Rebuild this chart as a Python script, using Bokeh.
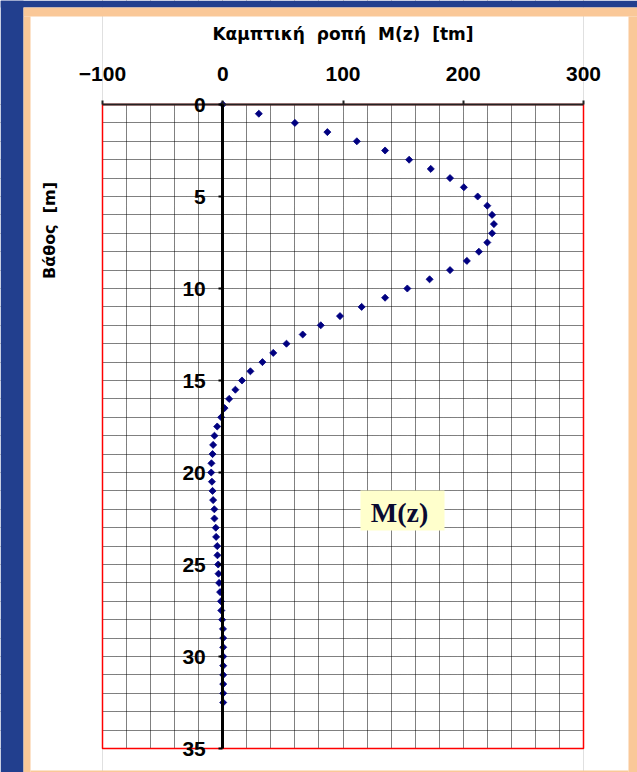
from math import pi
from bokeh.plotting import figure
from bokeh.models import (Range1d, SingleIntervalTicker, FixedTicker, BoxAnnotation, Label)
from bokeh.embed import file_html
from bokeh.resources import INLINE

# ---- data ----
depth = [0.0, 0.5, 1.0, 1.5, 2.0, 2.5, 3.0, 3.5, 4.0, 4.5, 5.0, 5.5, 6.0, 6.5, 7.0, 7.5,
         8.0, 8.5, 9.0, 9.5, 10.0, 10.5, 11.0, 11.5, 12.0, 12.5, 13.0, 13.5, 14.0, 14.5,
         15.0, 15.5, 16.0, 16.5, 17.0, 17.5, 18.0, 18.5, 19.0, 19.5, 20.0, 20.5, 21.0,
         21.5, 22.0, 22.5, 23.0, 23.5, 24.0, 24.5, 25.0, 25.5, 26.0, 26.5, 27.0, 27.5,
         28.0, 28.5, 29.0, 29.5, 30.0, 30.5, 31.0, 31.5, 32.0, 32.5]
moment = [0.0, 30.0, 60.0, 87.0, 111.5, 135.0, 155.0, 173.0, 189.0, 200.5, 212.0, 220.0,
          224.0, 225.5, 224.0, 220.0, 213.0, 203.0, 189.0, 172.0, 153.5, 135.0, 115.5,
          97.5, 81.5, 66.5, 53.0, 42.0, 33.0, 23.0, 16.0, 10.5, 5.3, 1.5, -1.3, -4.6,
          -6.9, -8.0, -8.5, -9.4, -9.6, -9.0, -8.5, -8.0, -7.0, -6.9, -5.8, -5.5, -4.6,
          -4.4, -3.8, -3.5, -3.0, -2.2, -1.5, -1.2, -0.5, 0.2, 0.4, 0.4, 0.4, 0.4, 0.4,
          0.4, 0.4, 0.4]
x_ticks = [-100, 0, 100, 200, 300]
y_ticks = [0, 5, 10, 15, 20, 25, 30, 35]
x_axis_limits = (-100, 300)
y_axis_limits = (0, 35)
title_text = "Καμπτική \u00a0ροπή \u00a0M(z) \u00a0[tm]"
ylabel_text = "Βάθος \u00a0[m]"
series_label = "M(z)"

W, H = 637, 772
BLUE = "#223f8e"
PEACH = "#fac898"
TICK_FONT = "Liberation Sans"

# the plotting area (red box) sits at canvas px x 102..583, y 104..748;
# the frame covers the whole canvas so that every guide can be drawn.
FX0, FX1, FY0, FY1 = 102, 583, 104, 748
SX = (FX1 - FX0) / (x_axis_limits[1] - x_axis_limits[0])
SY = (FY1 - FY0) / (y_axis_limits[1] - y_axis_limits[0])
X0 = x_axis_limits[0] - FX0 / SX
Y0 = y_axis_limits[0] - FY0 / SY


def px2x(px):
    return X0 + px / SX


def px2y(py):
    return Y0 + py / SY


p = figure(width=W, height=H, output_backend="svg", toolbar_location=None,
           x_range=Range1d(px2x(0), px2x(W)), y_range=Range1d(px2y(H), px2y(0)),
           x_axis_location="above", y_axis_location="left",
           min_border_left=0, min_border_right=0, min_border_top=0,
           min_border_bottom=0)

p.border_fill_color = "white"
p.background_fill_color = "white"
p.outline_line_alpha = 0

# grids (dotted)
p.xgrid.ticker = SingleIntervalTicker(interval=20)
p.ygrid.ticker = SingleIntervalTicker(interval=1)
for g in (p.xgrid, p.ygrid):
    g.grid_line_color = "black"
    g.grid_line_dash = "1 1"
    g.grid_line_width = 1
    g.grid_line_alpha = 1.0


def box(l, r, t, b, color, level="underlay"):
    bx = BoxAnnotation(left=px2x(l), right=px2x(r), top=px2y(t), bottom=px2y(b),
                       fill_color=color, fill_alpha=1, line_alpha=0, level=level)
    p.add_layout(bx)


# keep the grid inside the plotting area
box(0, FX0, 0, H, "white")
box(FX1, W, 0, H, "white")
box(FX0, FX1, 0, FY0, "white")
box(FX0, FX1, FY1, H, "white")

# outer blue background and peach frame
box(0, W, 0, 7, BLUE)
box(0, 23, 0, H, BLUE)
box(23, W, 7, 16, PEACH)
box(23, 30, 16, H, PEACH)
box(628, W, 16, H, PEACH)
box(30, 628, 770, H, PEACH)

# red border of the plotting area
p.add_layout(BoxAnnotation(left=x_axis_limits[0], right=x_axis_limits[1],
                           top=y_axis_limits[0], bottom=y_axis_limits[1],
                           fill_alpha=0, line_color="#ff0000", line_alpha=1.0,
                           line_width=1.5, level="underlay"))

# top axis at depth 0
xa = p.xaxis[0]
xa.fixed_location = y_axis_limits[0]
xa.bounds = x_axis_limits
xa.ticker = FixedTicker(ticks=x_ticks)
xa.axis_line_width = 2
xa.axis_line_color = "#222222"
xa.major_tick_out = 4
xa.major_tick_in = 0
xa.major_tick_line_width = 2
xa.major_tick_line_color = "#222222"
xa.minor_tick_out = 0
xa.minor_tick_in = 0
xa.major_label_text_font = TICK_FONT
xa.major_label_text_font_style = "bold"
xa.major_label_text_font_size = "21px"
xa.major_label_text_color = "black"
xa.major_label_standoff = 20
xa.axis_label = title_text
xa.axis_label_text_font = "DejaVu Sans"
xa.axis_label_text_font_style = "bold"
xa.axis_label_text_font_size = "17px"
xa.axis_label_text_color = "black"
xa.axis_label_standoff = 20

# y axis drawn at moment = 0
ya = p.yaxis[0]
ya.fixed_location = 0
ya.bounds = y_axis_limits
ya.ticker = FixedTicker(ticks=y_ticks)
ya.axis_line_width = 3
ya.axis_line_color = "black"
ya.major_tick_out = 4
ya.major_tick_in = 0
ya.major_tick_line_width = 2
ya.minor_tick_out = 0
ya.minor_tick_in = 0
ya.major_label_text_font = TICK_FONT
ya.major_label_text_font_style = "bold"
ya.major_label_text_font_size = "21px"
ya.major_label_text_color = "black"
ya.major_label_standoff = 13

# y axis title
p.add_layout(Label(x=px2x(49), y=px2y(230), text=ylabel_text, angle=pi / 2,
                   text_align="center", text_baseline="middle",
                   text_font="DejaVu Sans", text_font_style="bold",
                   text_font_size="16px", text_color="black"))

# data markers
p.scatter(x=moment, y=depth, marker="square", angle=pi / 4, size=5,
          fill_color="#000080", line_color="#000080", line_width=0.8)

# series label box
box(360, 444, 490, 530, "#ffffcc", level="overlay")
p.add_layout(Label(x=px2x(399), y=px2y(512), text=series_label, text_align="center",
                   text_baseline="middle", text_font="Liberation Serif",
                   text_font_style="bold", text_font_size="28px",
                   text_color="#0a0a30", level="overlay"))

open("out.html", "w").write(file_html(p, INLINE))
